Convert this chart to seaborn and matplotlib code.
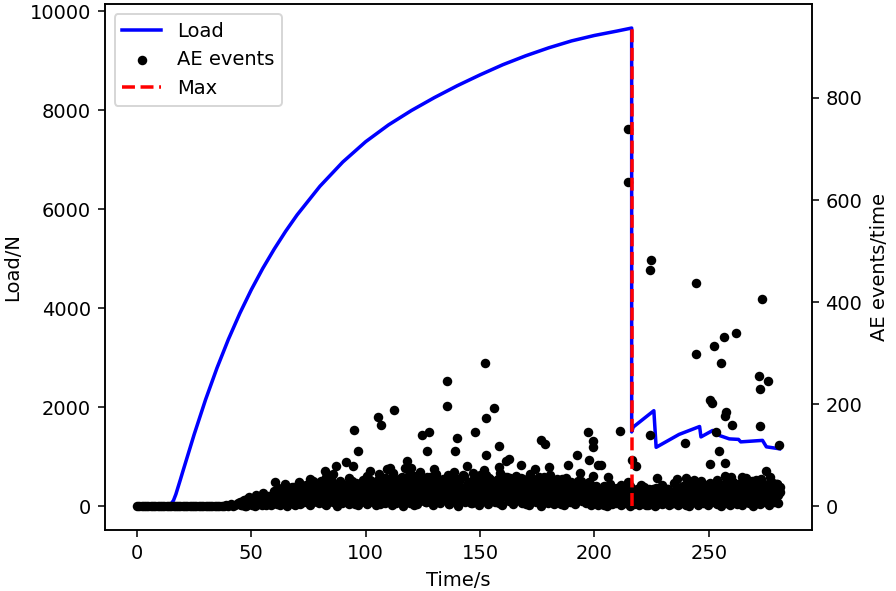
import numpy as np
import pandas as pd
import seaborn as sns
import matplotlib
matplotlib.use("Agg")
import matplotlib.pyplot as plt

# load curve (Time/s, Load/N)
load_time = [0, 13, 14, 15, 16, 17, 18, 19, 20, 25, 30, 35, 40, 45, 50, 55, 60, 65, 70,
             80, 90, 100, 110, 120, 130, 140, 150, 160, 170, 180, 190, 200, 210, 216.3,
             216.3, 217, 226, 227, 237, 246, 246.6, 251.7, 254.6, 259, 263, 264, 273.5, 275.2, 281]
load_N = [0, 0, 10, 50, 120, 240, 390, 540, 694, 1449, 2154, 2794, 3374, 3899, 4374, 4804, 5194, 5554, 5884,
          6464, 6954, 7364, 7704, 7994, 8254, 8494, 8714, 8920, 9100, 9260, 9400, 9510, 9600, 9660,
          1500, 1600, 1930, 1190, 1450, 1610, 1400, 1530, 1430, 1360, 1350, 1300, 1330, 1200, 1160]

# AE events, first row: one value per second from t=0
ae_row_1 = [0] * 38 + [
    0, 2, 0, 4, 0, 3, 6,
    8, 3, 12, 5, 18, 10, 6, 22, 14, 9, 25, 16, 7, 20, 12,
    30, 14, 28, 9, 35, 18, 24, 11, 38, 20, 15, 42, 26, 8, 33, 21, 40, 13, 29, 45,
    17, 36, 24, 10, 48, 27, 19, 41, 31, 12, 44, 22, 37, 15, 50, 28, 34, 18, 46, 25,
    39, 21, 52, 30, 14, 47, 35, 24, 56, 19, 43, 31, 58, 12, 38, 49, 26, 53, 33, 17,
    45, 60, 28, 40, 22, 55, 36, 15, 48, 30, 57, 25, 42, 18, 51, 34, 62, 27, 44, 13,
    54, 37, 23, 59, 31, 46, 20, 52, 39, 28, 61, 16, 47, 35, 56, 24, 41, 30, 53, 19,
    45, 58, 27, 38, 14, 50, 33, 22, 55, 29, 43, 18, 52, 36, 25, 48, 12, 40, 57, 21,
    34, 49, 26, 15, 44, 31, 53, 20, 38, 47, 24, 11, 42, 35, 50, 18, 29, 45, 22, 37,
    16, 33, 25, 9, 40, 21, 30, 13, 36, 19, 27, 8, 32, 17, 24, 11, 28,
    14, 22, 7, 30, 16, 25, 10, 33, 19, 12, 27, 6, 21, 31, 15, 24, 9, 28, 18, 34,
    11, 26, 20, 36, 13, 29, 22, 38, 16, 31, 25, 10, 35, 19, 42, 27, 14, 33, 23, 40,
    17, 30, 45, 21, 36, 12, 28, 41, 19, 34, 25, 47, 15, 32, 39, 22, 44, 18, 30, 37,
    24, 42, 16, 33, 27]

# second row, from t=45.5
ae_row_2 = [
    2, 6, 0, 9, 4, 11, 1, 7, 13, 3, 10, 5, 15, 2, 8,
    6, 12, 3, 18, 9, 1, 15, 22, 5, 11, 19, 4, 14, 26, 8, 2, 17, 10, 24, 6,
    13, 21, 3, 16, 28, 9, 12, 1, 20, 7, 25, 14, 4, 18, 11, 30, 2, 15, 23, 8,
    5, 18, 27, 10, 2, 22, 14, 31, 7, 16, 25, 3, 12, 20, 34, 9, 1, 17, 28, 6,
    13, 24, 4, 19, 33, 11, 8, 26, 15, 2, 21, 30, 7, 12, 36, 17, 4, 23, 10, 28,
    1, 15, 32, 9, 19, 26, 6, 14, 38, 3, 11, 22, 29, 5, 17, 35, 8, 13, 24, 2,
    20, 31, 10, 16, 4, 27, 12, 37, 7, 18, 25, 3, 14, 33, 9, 21, 1, 16, 29, 6,
    12, 23, 5, 19, 34, 10, 2, 15, 26, 8, 22, 4, 13, 31, 11, 18, 6, 27, 3, 14,
    9, 2, 15, 5, 20, 1, 11, 4, 17, 7, 13, 3, 19, 6, 10, 1, 14, 4, 12, 2,
    8, 16, 3, 11, 5, 18, 1, 9, 14, 4, 7, 20, 2, 12, 6, 15, 3, 10, 22, 5,
    13, 1, 17, 8, 24, 3, 11, 6, 19, 2, 14, 9, 26, 4, 12, 1, 21, 7, 16, 3,
    28, 10, 5, 18, 2, 13, 23, 6, 15, 1, 11, 25, 4, 17, 8, 20, 3, 14, 9, 19, 6]

# third row, from t=45.25
ae_row_3 = [
    4, 10, 1, 14, 7, 2, 16, 9, 5, 19, 11, 3, 21, 8, 13,
    17, 5, 24, 12, 31, 8, 20, 36, 14, 3, 27, 18, 9, 33, 22, 6, 39, 15, 25, 11,
    30, 19, 4, 43, 23, 13, 35, 7, 28, 40, 16, 24, 10, 47, 32, 5, 21, 38, 14, 29,
    44, 9, 26, 37, 17, 51, 4, 30, 41, 22, 13, 48, 34, 7, 25, 55, 18, 39, 11, 45,
    29, 3, 52, 36, 20, 42, 8, 31, 58, 15, 26, 46, 10, 38, 23, 53, 5, 33, 44, 19,
    28, 12, 57, 35, 21, 48, 7, 40, 30, 16, 54, 25, 43, 9, 37, 50, 18, 32, 6, 46,
    23, 41, 14, 56, 28, 11, 39, 49, 20, 34, 4, 45, 27, 53, 15, 36, 9, 42, 31, 22,
    50, 12, 38, 26, 47, 5, 33, 19, 44, 29, 8, 40, 24, 17, 36, 10, 31, 21, 43, 14,
    25, 8, 30, 18, 3, 35, 12, 22, 6, 28, 15, 33, 9, 20, 26, 4, 31, 13, 24, 7,
    18, 29, 11, 2, 23, 16, 32, 5, 19, 27, 10, 21, 34, 14, 6, 25, 38, 12, 30, 17,
    3, 36, 22, 9, 41, 26, 15, 33, 7, 29, 44, 18, 11, 37, 24, 5, 40, 31, 14, 46,
    20, 27, 9, 35, 43, 16, 23, 39, 12, 48, 30, 6, 34, 25, 41, 19, 36, 13, 45, 28,
    22, 38]

# fourth row, from t=60.75
ae_row_4 = [
    22, 35, 10, 27, 44, 16, 31, 6, 38, 25, 48, 19, 12, 41, 29, 53, 8, 34, 21, 46,
    15, 37, 57, 26, 11, 43, 32, 18, 50, 24, 39, 9, 55, 30, 20, 45, 13, 36, 52, 27,
    60, 33, 18, 47, 28, 64, 39, 14, 55, 42, 24, 66, 35, 49, 19, 58, 30, 44, 62, 27,
    38, 53, 16, 67, 41, 29, 57, 22, 48, 36, 63, 25, 45, 54, 13, 40, 59, 31, 68, 23,
    50, 37, 61, 18, 46, 28, 65, 34, 43, 56, 21, 39, 62, 30, 52, 17, 47, 35, 66, 26,
    41, 58, 24, 49, 33, 60, 19, 44, 54, 28, 37, 63, 15, 48, 40, 57, 22, 51, 31, 45,
    61, 26, 39, 53, 18, 42, 34, 56, 29, 47, 20, 38, 50, 27, 43, 16, 36, 48, 24, 33,
    40, 21, 32, 14, 37, 26, 44, 11, 29, 35, 18, 42, 24, 9, 31, 39, 16, 27, 34, 12,
    25, 38, 20, 8, 30, 22, 36, 15, 28, 41, 19, 33, 10, 26, 45, 23, 35, 17, 40, 29,
    48, 21, 37, 13, 44, 32, 50, 25, 39, 18, 46, 34, 27, 52, 20, 42, 31, 55, 24, 38,
    47, 15, 43, 33, 58, 28, 40, 22, 50, 36, 45, 19, 53, 30, 41, 26, 48, 35, 21, 44, 32]

# isolated bursts above the dense band
burst_time = [60.3, 62.4, 71.2, 77, 80.6, 82.1, 85, 85.7, 87.2, 91.6, 94.5, 94.9, 96.6, 102, 105.4,
              106.8, 109.5, 110.5, 112.4, 117, 118.2, 120, 124.6, 126.9, 127.5, 129.8, 135.4, 135.4,
              139, 139.9, 144.1, 147.9, 151.7, 152.3, 152.7, 152.8, 155.9, 158.4, 158.5, 161.4,
              162.6, 168, 174.1, 176.7, 178.6, 180, 188.4, 192.3, 193.7, 197.4, 197.8, 199.3,
              199.6, 199.3, 201.4, 202.9, 205.8, 211, 214.5, 214.5, 214.8, 216.3, 218.2, 220.4,
              224.3, 224.5, 224.8, 225.8, 227.4, 236, 239.7, 239.9, 243.4, 244.4, 244.4, 248.5,
              250.4, 250.5, 251.5, 252.4, 253.1, 254.5, 255.5, 256.8, 256.9, 257.1, 257.2, 257.5,
              259.7, 260.3, 262.1, 264.8, 266.2, 270.6, 272, 272.2, 272.5, 273.5, 275, 275.7,
              276.7, 280, 280.8]
burst_events = [47, 28, 44, 49, 49, 69, 54, 64, 78, 86, 78, 150, 109, 69, 174,
                160, 72, 74, 189, 74, 88, 74, 140, 109, 146, 73, 245, 196,
                109, 133, 78, 146, 70, 281, 101, 172, 192, 76, 118, 88,
                92, 80, 73, 129, 122, 76, 80, 101, 65, 145, 90, 127,
                116, 60, 80, 80, 57, 148, 47, 740, 636, 90, 78, 42,
                139, 462, 483, 34, 55, 53, 124, 56, 52, 438, 299, 26,
                83, 208, 202, 314, 145, 109, 281, 332, 85, 60, 176, 185,
                58, 160, 340, 52, 56, 52, 256, 158, 229, 407, 69, 245,
                58, 43, 119]

max_time = 216.3
max_top = 937  # peak load on the right-hand scale

ae = pd.DataFrame({
    "time": list(np.arange(len(ae_row_1), dtype=float))
            + list(45.5 + np.arange(len(ae_row_2)))
            + list(45.25 + np.arange(len(ae_row_3)))
            + list(60.75 + np.arange(len(ae_row_4)))
            + burst_time,
    "events": ae_row_1 + ae_row_2 + ae_row_3 + ae_row_4 + burst_events,
})

fig = plt.figure(figsize=(6.4, 591 / 140), dpi=140)
fig.subplots_adjust(left=0.117, right=0.906, bottom=0.103, top=0.993)
ax1 = fig.add_subplot(111)
ax2 = ax1.twinx()

sns.lineplot(x=load_time, y=load_N, ax=ax1, color="b", lw=1.8, label="Load",
             sort=False, estimator=None)
sns.scatterplot(data=ae, x="time", y="events", ax=ax2, color="k", s=24,
                linewidth=0, label="AE events")
sns.lineplot(x=[max_time, max_time], y=[0, max_top], ax=ax2, color="r", lw=1.8,
             linestyle="--", label="Max", sort=False, estimator=None)

ax1.set_xlim(-14.05, 295.05)
ax1.set_ylim(-483, 10143)
ax2.set_ylim(-46.85, 983.85)

ax1.set_xlabel("Time/s")
ax1.set_ylabel("Load/N")
ax2.set_ylabel("AE events/time")

h1, l1 = ax1.get_legend_handles_labels()
h2, l2 = ax2.get_legend_handles_labels()
if ax1.get_legend() is not None:
    ax1.get_legend().remove()
ax2.legend(h1 + h2, l1 + l2, loc="upper left")

fig.savefig("out.png", dpi=140)
